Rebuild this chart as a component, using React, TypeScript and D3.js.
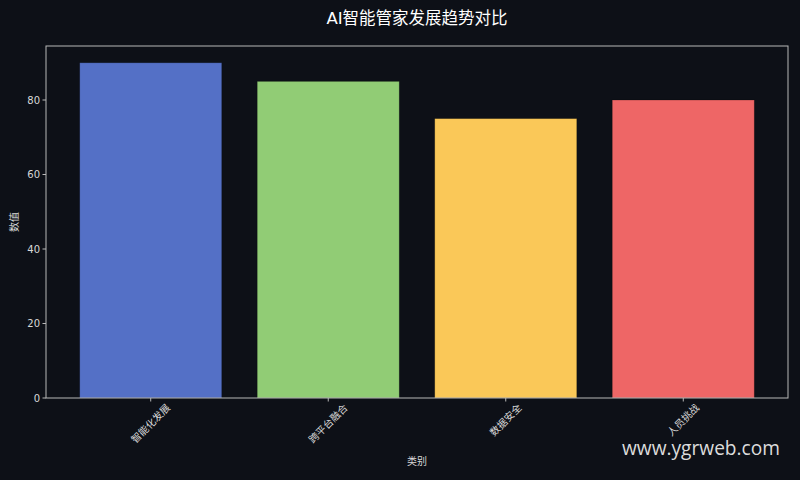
import React from "react";
import * as d3 from "d3";

const categories = ["智能化发展", "跨平台融合", "数据安全", "人员挑战"];
const values = [90, 85, 75, 80];
const colors = ["#5470c6", "#91cc75", "#fac858", "#ee6666"];
const yTicks = [0, 20, 40, 60, 80];

const W = 800, H = 480;
const M = { left: 46, right: 788, top: 46, bottom: 398 };
const FONT = "'DejaVu Sans', 'Noto Sans CJK SC', sans-serif";

export default function App() {
  const x = d3.scaleLinear().domain([-0.59, 3.59]).range([M.left, M.right]);
  const y = d3.scaleLinear().domain([0, 94.5]).range([M.bottom, M.top]);
  const bw = x(0.8) - x(0);
  return (
    <svg width={W} height={H} style={{ position: "absolute", left: 0, top: 0, background: "#0d1017" }}>
      <rect x={0} y={0} width={W} height={H} fill="#0d1017" />
      <text x={(M.left + M.right) / 2} y={24} fill="#ffffff" fontSize={16.5} textAnchor="middle" fontFamily={FONT}>
        AI智能管家发展趋势对比
      </text>
      {values.map((v, i) => (
        <rect key={i} x={x(i) - bw / 2} y={y(v)} width={bw} height={y(0) - y(v)}
          fill={colors[i]} stroke="#000000" strokeOpacity={0.25} strokeWidth={0.8} />
      ))}
      <rect x={M.left} y={M.top} width={M.right - M.left} height={M.bottom - M.top}
        fill="none" stroke="#b8b8b8" strokeWidth={1} />
      {yTicks.map((t) => (
        <g key={t}>
          <line x1={M.left - 3.5} x2={M.left} y1={y(t)} y2={y(t)} stroke="#b8b8b8" />
          <text x={M.left - 6} y={y(t)} dy="0.35em" fill="#d8d8d8" fontSize={10} textAnchor="end" fontFamily={FONT}>{t}</text>
        </g>
      ))}
      {categories.map((c, i) => {
        const cx = x(i);
        const half = (c.length * 10) * Math.SQRT1_2 / 2;
        const cy = M.bottom + 8 + half;
        return (
          <g key={c}>
            <line x1={cx} x2={cx} y1={M.bottom} y2={M.bottom + 3.5} stroke="#b8b8b8" />
            <text x={cx} y={cy} dy="0.35em" fill="#d8d8d8" fontSize={10} textAnchor="middle" fontFamily={FONT}
              transform={`rotate(-45 ${cx} ${cy})`}>{c}</text>
          </g>
        );
      })}
      <text x={(M.left + M.right) / 2} y={465} fill="#d8d8d8" fontSize={10} textAnchor="middle" fontFamily={FONT}>类别</text>
      <text x={18} y={(M.top + M.bottom) / 2} fill="#d8d8d8" fontSize={10} textAnchor="middle" fontFamily={FONT}
        transform={`rotate(-90 18 ${(M.top + M.bottom) / 2})`}>数值</text>
      <text x={622} y={455} fill="#dcdcdc" fontSize={20} textLength={158} lengthAdjust="spacingAndGlyphs"
        fontFamily="'Open Sans', sans-serif">www.ygrweb.com</text>
    </svg>
  );
}
